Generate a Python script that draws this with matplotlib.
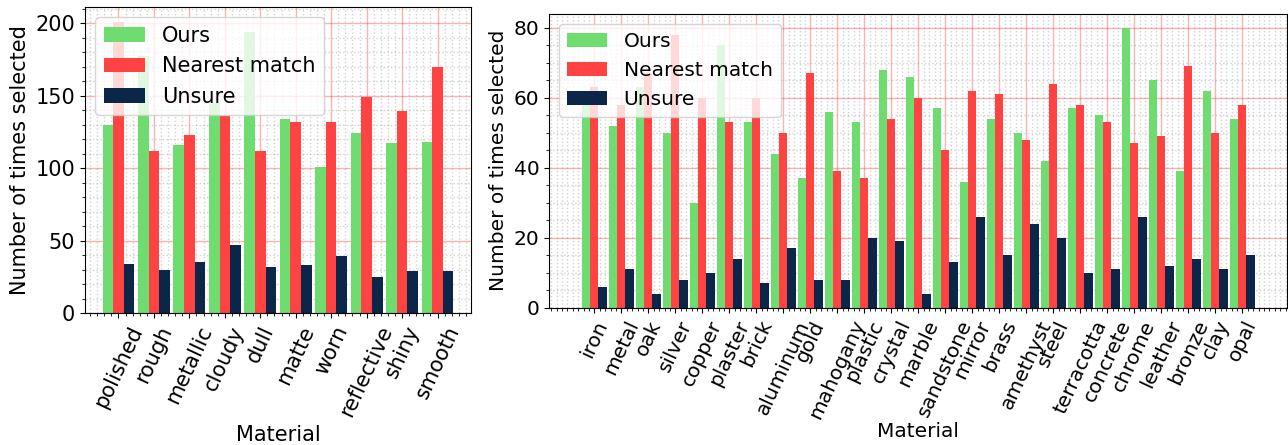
import numpy as np
import matplotlib
matplotlib.use("Agg")
import matplotlib.pyplot as plt
from matplotlib.ticker import AutoMinorLocator

# ---- data ----
adj_labels = ["polished", "rough", "metallic", "cloudy", "dull", "matte", "worn",
              "reflective", "shiny", "smooth"]
adj_ours = [130, 177, 116, 145, 194, 134, 101, 124, 117, 118]
adj_nearest = [201, 112, 123, 136, 112, 132, 132, 149, 139, 170]
adj_unsure = [34, 30, 35, 47, 32, 33, 39, 25, 29, 29]

mat_labels = ["iron", "metal", "oak", "silver", "copper", "plaster", "brick", "aluminum",
              "gold", "mahogany", "plastic", "crystal", "marble", "sandstone", "mirror",
              "brass", "amethyst", "steel", "terracotta", "concrete", "chrome", "leather",
              "bronze", "clay", "opal"]
mat_ours = [58, 52, 63, 50, 30, 75, 53, 44, 37, 56, 53, 68, 66, 57, 36, 54, 50, 42,
            57, 55, 80, 65, 39, 62, 54]
mat_nearest = [63, 58, 67, 78, 60, 53, 60, 50, 67, 39, 37, 54, 60, 45, 62, 61, 48, 64,
               58, 53, 47, 49, 69, 50, 58]
mat_unsure = [6, 11, 4, 8, 10, 14, 7, 17, 8, 8, 20, 19, 4, 13, 26, 15, 24, 20,
              10, 11, 26, 12, 14, 11, 15]

series_names = ["Ours", "Nearest match", "Unsure"]
colors = ["#6fdc6f", "#ff4343", "#0b2649"]

fig = plt.figure(figsize=(12.88, 4.45), dpi=100)
ax1 = fig.add_axes([85 / 1288, (445 - 313) / 445, (471 - 85) / 1288, (313 - 7) / 445])
ax2 = fig.add_axes([549 / 1288, (445 - 307.5) / 445, (1287 - 549) / 1288, (307.5 - 14) / 445])

width = 0.3


def draw(ax, labels, vals, fs, xlim=None, labelpad=4.0):
    x = np.arange(len(labels))
    for i, (v, name, c) in enumerate(zip(vals, series_names, colors)):
        ax.bar(x + (i - 1) * width, v, width, color=c, label=name)
    ax.set_axisbelow(True)
    ax.set_xticks(x)
    ax.set_xticklabels(labels, rotation=65, fontsize=fs)
    ax.tick_params(axis="y", labelsize=fs)
    ax.xaxis.set_minor_locator(AutoMinorLocator())
    ax.yaxis.set_minor_locator(AutoMinorLocator())
    ax.grid(which="major", color="red", alpha=0.3, linewidth=1)
    ax.grid(which="minor", color="gray", linestyle=":", alpha=0.35, linewidth=1)
    ax.set_xlabel("Material", fontsize=fs, labelpad=labelpad)
    ax.set_ylabel("Number of times selected", fontsize=fs)
    if xlim is not None:
        ax.set_xlim(*xlim)
    ax.legend(loc="upper left", fontsize=fs)


draw(ax1, adj_labels, [adj_ours, adj_nearest, adj_unsure], 15)
draw(ax2, mat_labels, [mat_ours, mat_nearest, mat_unsure], 14.5,
     xlim=(-1.68, 25.65), labelpad=-0.5)

fig.savefig("out.png", dpi=100)
